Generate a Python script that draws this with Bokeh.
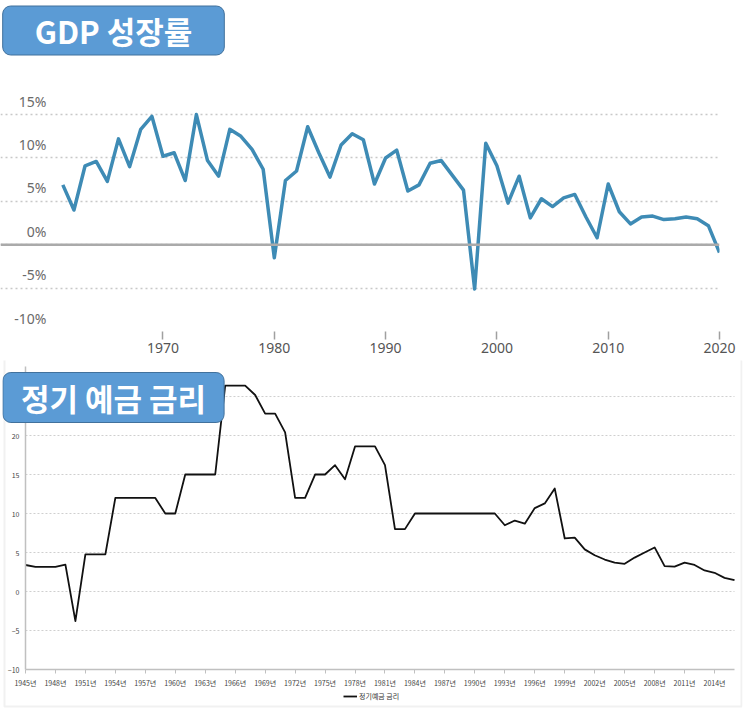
from bokeh.plotting import figure
from bokeh.models import (Range1d, FixedTicker, Span, Label, BoxAnnotation,
                          Legend, LegendItem)
from bokeh.layouts import column
from bokeh.embed import file_html
from bokeh.resources import INLINE
from bokeh.core.properties import value

# ---------------- data: GDP growth (%) ----------------
gdp_years = list(range(1961, 2021))
gdp_growth = [6.9, 4.0, 9.1, 9.6, 7.3, 12.2, 9.0, 13.3, 14.8, 10.2,
              10.6, 7.4, 15.0, 9.7, 7.9, 13.3, 12.5, 11.0, 8.7, -1.5,
              7.4, 8.5, 13.6, 10.6, 7.8, 11.5, 12.8, 12.1, 7.0, 10.0,
              10.9, 6.2, 6.9, 9.4, 9.7, 8.0, 6.3, -5.1, 11.7, 9.1,
              4.8, 7.9, 3.1, 5.3, 4.4, 5.4, 5.8, 3.2, 0.8, 7.0,
              3.8, 2.4, 3.2, 3.3, 2.9, 3.0, 3.2, 3.0, 2.2, -0.9]
gdp_yticks = [-10, -5, 0, 5, 10, 15]
gdp_ytick_labels = ["-10%", "-5%", "0%", "5%", "10%", "15%"]
gdp_xticks = [1970, 1980, 1990, 2000, 2010, 2020]

# ---------------- data: time-deposit interest rate (%) ----------------
dep_years = list(range(1945, 2017))
dep_rate = [3.4, 3.15, 3.15, 3.15, 3.45, -3.8, 4.75, 4.75, 4.75,
            12.0, 12.0, 12.0, 12.0, 12.0, 10.0, 10.0,
            15.0, 15.0, 15.0, 15.0, 26.4, 26.4, 26.4,
            25.2, 22.8, 22.8, 20.4, 12.0, 12.0, 15.0, 15.0, 16.2, 14.4,
            18.6, 18.6, 18.6, 16.2, 8.0, 8.0,
            10.0, 10.0, 10.0, 10.0, 10.0, 10.0, 10.0, 10.0, 10.0,
            8.5, 9.1, 8.7, 10.7, 11.3, 13.2,
            6.8, 6.9, 5.4, 4.65, 4.1, 3.7, 3.55, 4.35, 5.0, 5.65,
            3.25, 3.2, 3.7, 3.4, 2.7, 2.4, 1.75, 1.45]
dep_yticks = [-10, -5, 0, 5, 10, 15, 20, 25]
dep_ymax = 28.85
dep_xticks = list(range(1945, 2015, 3))
dep_xtick_labels = [f"{y}년" for y in dep_xticks]
dep_series_name = "정기예금 금리"

title_top = "GDP 성장률"
title_bottom = "정기 예금 금리"

W = 743
H1 = 360
H2 = 708 - H1

BOX_FILL = "#5b9bd5"
BOX_LINE = "#41719c"
TITLE_FONT = "Noto Sans CJK KR"

# ================= top chart =================
p1 = figure(width=W, height=H1, output_backend="svg", toolbar_location=None,
            x_range=Range1d(1955.40, 2020.0), y_range=Range1d(-10, 28.15),
            min_border_left=0, min_border_right=24, min_border_top=0,
            min_border_bottom=29)
p1.frame_align = False
p1.outline_line_color = None
p1.background_fill_color = "white"
p1.border_fill_color = "white"
p1.yaxis.visible = False
p1.xgrid.visible = False
p1.ygrid.ticker = FixedTicker(ticks=gdp_yticks)
p1.ygrid.grid_line_color = "#c8c8c8"
p1.ygrid.grid_line_dash = "2 3"
p1.ygrid.grid_line_width = 1.5

p1.xaxis.ticker = FixedTicker(ticks=gdp_xticks)
p1.xaxis.axis_line_color = None
p1.xaxis.major_tick_out = 8
p1.xaxis.major_tick_in = 0
p1.xaxis.major_tick_line_color = "#a0a0a0"
p1.xaxis.major_tick_line_width = 1.5
p1.xaxis.minor_tick_line_color = None
p1.xaxis.major_label_standoff = 3
p1.xaxis.major_label_text_font = "Noto Sans"
p1.xaxis.major_label_text_font_size = "14px"
p1.xaxis.major_label_text_color = "#555555"

p1.add_layout(Span(location=0, dimension="width", line_color="#aaaaaa",
                   line_width=2.5))

p1.line(gdp_years, gdp_growth, line_width=3.5, line_color="#3e8bb5",
        line_join="round")

p1.text(x=[p1.x_range.start] * len(gdp_yticks), y=gdp_yticks,
        text=gdp_ytick_labels, x_offset=46, y_offset=-4,
        text_align="right", text_baseline="bottom",
        text_font=value("Noto Sans"), text_font_size="14px",
        text_color="#6a6a6a")

p1.add_layout(Label(x=113, y=30, x_units="canvas", y_units="canvas",
                    text=title_top, text_align="center",
                    text_baseline="middle", text_font=TITLE_FONT,
                    text_font_style="bold", text_font_size="31px",
                    text_color="white",
                    background_fill_color=BOX_FILL, background_fill_alpha=1.0,
                    border_line_color=BOX_LINE, border_line_width=1,
                    border_radius=8,
                    padding=dict(left=32, right=32, top=2, bottom=2)))

# ================= bottom chart =================
# frame covers the whole bordered box; axes are drawn at fixed locations
p2 = figure(width=W, height=H2, output_backend="svg", toolbar_location=None,
            x_range=Range1d(1942.70, 2016.80), y_range=Range1d(-15.0, 29.62),
            min_border_left=2, min_border_right=1, min_border_top=0,
            min_border_bottom=0)
p2.frame_align = False
p2.outline_line_color = None
p2.background_fill_color = "white"
p2.border_fill_color = "white"
p2.xgrid.visible = False
p2.ygrid.visible = False

# dotted horizontal grid lines across the data extent
p2.segment(x0=dep_years[0], x1=dep_years[-1], y0=dep_yticks[1:],
           y1=dep_yticks[1:], line_color="#cfcfcf", line_dash="2 2",
           line_width=1, level="underlay")

p2.yaxis.fixed_location = dep_years[0]
p2.yaxis.bounds = (dep_yticks[0], dep_ymax)
p2.yaxis.ticker = FixedTicker(ticks=dep_yticks)
p2.yaxis.axis_line_color = "#c0c0c0"
p2.yaxis.axis_line_width = 1.5
p2.yaxis.major_tick_out = 0
p2.yaxis.major_tick_in = 0
p2.yaxis.minor_tick_line_color = None
p2.yaxis.major_label_standoff = 6
p2.yaxis.major_label_text_font = "Noto Sans CJK KR"
p2.yaxis.major_label_text_font_size = "7px"
p2.yaxis.major_label_text_color = "#444444"

p2.xaxis.fixed_location = dep_yticks[0]
p2.xaxis.bounds = (dep_years[0], dep_years[-1])
p2.xaxis.ticker = FixedTicker(ticks=dep_xticks)
p2.xaxis.major_label_overrides = dict(zip(dep_xticks, dep_xtick_labels))
p2.xaxis.axis_line_color = "#c0c0c0"
p2.xaxis.axis_line_width = 1.5
p2.xaxis.major_tick_out = 4
p2.xaxis.major_tick_in = 0
p2.xaxis.major_tick_line_color = "#c0c0c0"
p2.xaxis.minor_tick_line_color = None
p2.xaxis.major_label_standoff = 4
p2.xaxis.major_label_text_font = "Noto Sans CJK KR"
p2.xaxis.major_label_text_font_size = "7px"
p2.xaxis.major_label_text_color = "#444444"

r = p2.line(dep_years, dep_rate, line_color="#111111", line_width=1.8,
            line_join="round")

legend = Legend(items=[LegendItem(label=dep_series_name, renderers=[r])],
                location=(341, 7), orientation="horizontal",
                label_text_font="Noto Sans CJK KR", label_text_font_size="7px",
                label_text_color="#333333", glyph_width=14, glyph_height=8,
                label_height=8, padding=2, margin=0, spacing=0,
                label_standoff=2,
                border_line_color=None, background_fill_alpha=0)
p2.add_layout(legend)

# outer light-grey frame of the lower panel
p2.add_layout(BoxAnnotation(left=4, right=741, top=-10, bottom=346,
                            left_units="canvas", right_units="canvas",
                            top_units="canvas", bottom_units="canvas",
                            fill_color=None, fill_alpha=0,
                            line_color="#d2d2d2", line_width=2))

p2.add_layout(Label(x=113, y=37, x_units="canvas", y_units="canvas",
                    text=title_bottom, text_align="center",
                    text_baseline="middle", text_font=TITLE_FONT,
                    text_font_style="bold", text_font_size="31px",
                    text_color="white",
                    background_fill_color=BOX_FILL, background_fill_alpha=1.0,
                    border_line_color=BOX_LINE, border_line_width=1,
                    border_radius=8,
                    padding=dict(left=18, right=18, top=2, bottom=3)))

layout = column(p1, p2, spacing=0)
open("out.html", "w").write(file_html(layout, INLINE))
